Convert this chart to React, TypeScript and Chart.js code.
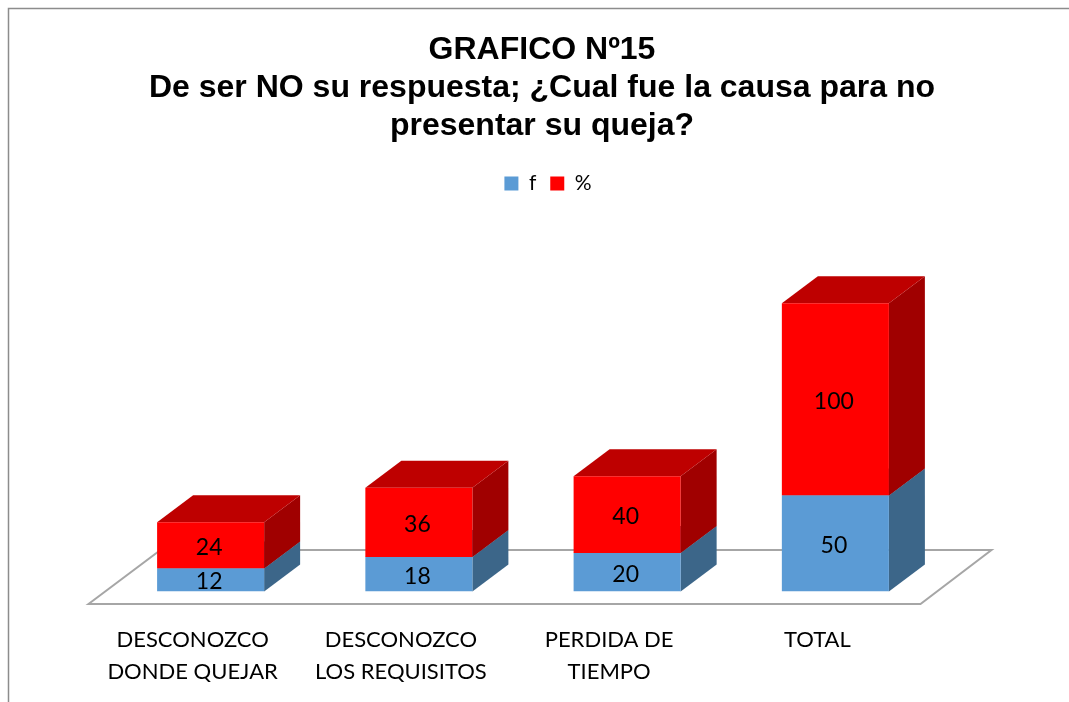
import React, { useEffect, useRef } from "react";
import { Chart, registerables } from "chart.js";

Chart.register(...registerables);

const titleLines = ["GRAFICO Nº15", "De ser NO su respuesta; ¿Cual fue la causa para no", "presentar su queja?"];
const categories = [
  ["DESCONOZCO", "DONDE QUEJAR"],
  ["DESCONOZCO", "LOS REQUISITOS"],
  ["PERDIDA DE", "TIEMPO"],
  ["TOTAL"],
];
const fValues = [12, 18, 20, 50];
const pctValues = [24, 36, 40, 100];
const seriesNames = ["f", "%"];
const axisMax = 200;

const FRONT = ["#5B9BD5", "#FF0000"];
const SIDE = ["#3C6689", "#A00000"];
const TOP = ["#3C6689", "#BE0000"];
const DX = 36;
const DY = 27;

const depthPlugin = {
  id: "depth3d",
  afterLayout(chart: any) {
    const shift = 19;
    [chart.titleBlock].forEach((b: any) => { b.left += shift; b.right += shift; });
    const lg = chart.legend;
    lg.left += 25; lg.right += 25;
    lg.top -= 3; lg.bottom -= 3;
    lg.adjustHitBoxes && lg.adjustHitBoxes();
  },
  beforeDraw(chart: any) {
    const c = chart.ctx;
    c.save();
    c.fillStyle = "#FFFFFF";
    c.fillRect(0, 0, chart.width, chart.height);
    c.strokeStyle = "#8C8C8C";
    c.lineWidth = 1.5;
    c.beginPath();
    c.moveTo(8.5, chart.height);
    c.lineTo(8.5, 8.5);
    c.lineTo(chart.width, 8.5);
    c.stroke();
    c.restore();
  },
  beforeDatasetsDraw(chart: any) {
    const c = chart.ctx;
    const a = chart.chartArea;
    c.save();
    c.strokeStyle = "#A6A6A6";
    c.lineWidth = 2;
    c.beginPath();
    c.moveTo(a.left - 18, a.bottom + 12.5);
    c.lineTo(a.left + 54, a.bottom - 41.5);
    c.lineTo(a.right + 52, a.bottom - 41.5);
    c.lineTo(a.right - 19, a.bottom + 12.5);
    c.closePath();
    c.stroke();
    chart.data.datasets.forEach((_: any, di: number) => {
      chart.getDatasetMeta(di).data.forEach((bar: any) => {
        const p = bar.getProps(["x", "y", "base", "width"], true);
        const r = p.x + p.width / 2;
        const l = p.x - p.width / 2;
        c.fillStyle = SIDE[di];
        c.beginPath();
        c.moveTo(r, p.y);
        c.lineTo(r + DX, p.y - DY);
        c.lineTo(r + DX, p.base - DY);
        c.lineTo(r, p.base);
        c.closePath();
        c.fill();
        c.fillStyle = TOP[di];
        c.beginPath();
        c.moveTo(l, p.y);
        c.lineTo(l + DX, p.y - DY);
        c.lineTo(r + DX, p.y - DY);
        c.lineTo(r, p.y);
        c.closePath();
        c.fill();
      });
    });
    c.restore();
  },
  afterDatasetsDraw(chart: any) {
    const c = chart.ctx;
    c.save();
    c.fillStyle = "#000000";
    c.font = "23px Lato";
    c.textAlign = "center";
    c.textBaseline = "middle";
    chart.data.datasets.forEach((ds: any, di: number) => {
      chart.getDatasetMeta(di).data.forEach((bar: any, i: number) => {
        const p = bar.getProps(["x", "y", "base"], true);
        c.fillText(String(ds.data[i]), p.x - 1.5, (p.y + p.base) / 2 + 2);
      });
    });
    c.restore();
  },
};

export default function App() {
  const ref = useRef<HTMLCanvasElement>(null);
  useEffect(() => {
    document.body.style.margin = "0";
    document.body.style.overflow = "hidden";
    const chart = new Chart(ref.current as HTMLCanvasElement, {
      type: "bar",
      data: {
        labels: categories as any,
        datasets: [
          { label: seriesNames[0], data: fValues, backgroundColor: FRONT[0] },
          { label: seriesNames[1], data: pctValues, backgroundColor: FRONT[1] },
        ],
      },
      options: {
        animation: false,
        responsive: false,
        devicePixelRatio: 1,
        layout: { padding: { left: 106.5, right: 129.5, top: 0, bottom: 0 } },
        datasets: { bar: { categoryPercentage: 1, barPercentage: 0.514 } },
        plugins: {
          tooltip: { enabled: false },
          title: {
            display: true,
            text: titleLines,
            color: "#000000",
            font: { family: "'Liberation Sans'", size: 32, weight: "bold", lineHeight: 38 / 32 },
            padding: { top: 31, bottom: 17 },
          },
          legend: {
            display: true,
            position: "top",
            labels: {
              color: "#000000",
              font: { family: "Lato", size: 21 },
              boxWidth: 14,
              boxHeight: 14,
              padding: 14,
            },
          },
        },
        scales: {
          x: {
            stacked: true,
            grid: { display: false, drawTicks: false },
            border: { display: false },
            afterFit: (s: any) => { s.height = 110.5; },
            ticks: {
              color: "#000000",
              font: { family: "Lato", size: 22, lineHeight: 32 / 22 },
              labelOffset: -18,
              padding: 32,
              maxRotation: 0,
              minRotation: 0,
              autoSkip: false,
            },
          },
          y: { stacked: true, display: false, min: 0, max: axisMax },
        },
      },
      plugins: [depthPlugin],
    } as any);
    return () => chart.destroy();
  }, []);
  return <canvas ref={ref} width={1069} height={702} style={{ display: "block" }} />;
}
